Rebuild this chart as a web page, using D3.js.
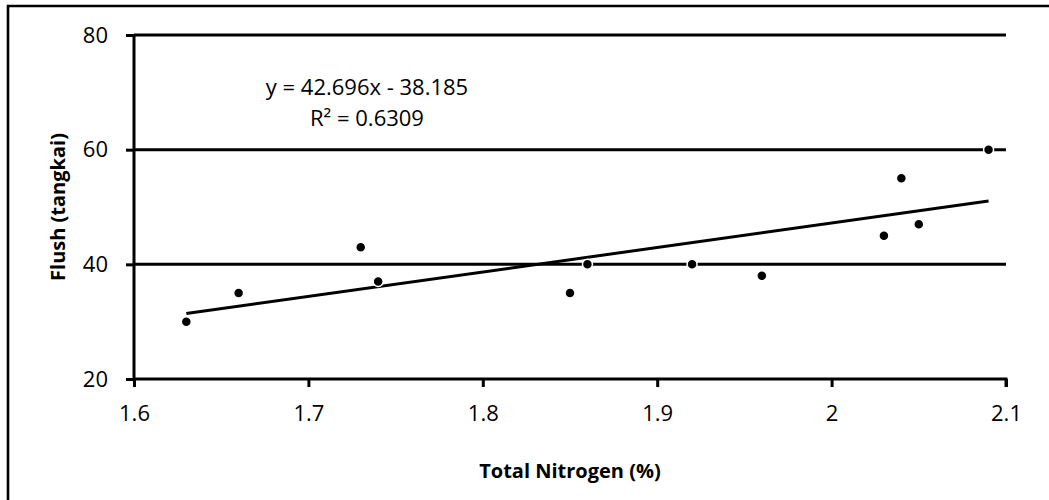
<!DOCTYPE html>
<html>
<head>
<meta charset="utf-8">
<script src="https://cdn.jsdelivr.net/npm/d3@7"></script>
<style>
  html, body { margin: 0; padding: 0; background: #fff; }
  svg { display: block; }
  text { font-family: "Open Sans", "Noto Sans", sans-serif; fill: #000; }
</style>
</head>
<body>
<svg id="chart" width="1049" height="500"></svg>
<script>
// Total nitrogen (%) against flush count (tangkai)
const nitrogen = [1.63, 1.66, 1.73, 1.74, 1.85, 1.86, 1.92, 1.96, 2.03, 2.04, 2.05, 2.09];
const flush    = [30,   35,   43,   37,   35,   40,   40,   38,   45,   55,   47,   60];
const xTicks = [1.6, 1.7, 1.8, 1.9, 2.0, 2.1];
const yTicks = [20, 40, 60, 80];
const slope = 42.696, intercept = -38.185, rSquared = 0.6309;

const svg = d3.select("#chart");
const W = 1049, H = 500;

// outer frame (top and left edges)
svg.append("path")
  .attr("d", `M8,${H} L8,6 L${W},6`)
  .attr("fill", "none").attr("stroke", "#000").attr("stroke-width", 2.6);

const x = d3.scaleLinear().domain([1.6, 2.1]).range([134, 1006]);
const y = d3.scaleLinear().domain([20, 80]).range([379, 35]);

// horizontal gridlines
svg.append("g").selectAll("line")
  .data(yTicks.filter(v => v > 20))
  .join("line")
  .attr("x1", x(1.6)).attr("x2", x(2.1))
  .attr("y1", d => y(d)).attr("y2", d => y(d))
  .attr("stroke", "#000").attr("stroke-width", 3);

// y axis
const yAxis = svg.append("g")
  .attr("transform", `translate(${x(1.6)},0)`)
  .call(d3.axisLeft(y).tickValues(yTicks).tickSize(8).tickPadding(18).tickFormat(d3.format("d")));
// x axis
const xAxis = svg.append("g")
  .attr("transform", `translate(0,${y(20)})`)
  .call(d3.axisBottom(x).tickValues(xTicks).tickSize(8).tickPadding(18).tickFormat(d => d3.format("")(+d.toFixed(1))));

[yAxis, xAxis].forEach(g => {
  g.select(".domain").attr("stroke", "#000").attr("stroke-width", 3);
  g.selectAll(".tick line").attr("stroke", "#000").attr("stroke-width", 3);
  g.selectAll(".tick text").attr("font-family", "Open Sans").attr("font-size", 22).attr("fill", "#000");
});
yAxis.select(".domain").attr("d", `M0,${y(20)}V${y(80)}`);
xAxis.select(".domain").attr("d", `M${x(1.6)},0H${x(2.1)}V8`);

// linear trendline over the data range
const xMin = d3.min(nitrogen), xMax = d3.max(nitrogen);
svg.append("line")
  .attr("x1", x(xMin)).attr("y1", y(slope * xMin + intercept))
  .attr("x2", x(xMax)).attr("y2", y(slope * xMax + intercept))
  .attr("stroke", "#000").attr("stroke-width", 3);

// data points
svg.append("g").selectAll("circle")
  .data(nitrogen.map((n, i) => [n, flush[i]]))
  .join("circle")
  .attr("cx", d => x(d[0])).attr("cy", d => y(d[1]))
  .attr("r", 5).attr("fill", "#000")
  .attr("stroke", "#fff").attr("stroke-width", 1.5);

// regression equation
const eq = svg.append("text").attr("text-anchor", "middle").attr("font-size", 22);
eq.append("tspan").attr("x", 367).attr("y", 95)
  .text(`y = ${slope}x - ${Math.abs(intercept)}`);
eq.append("tspan").attr("x", 367).attr("y", 126)
  .text(`R² = ${rSquared}`);

// axis titles
svg.append("text")
  .attr("x", (x(1.6) + x(2.1)) / 2).attr("y", 478)
  .attr("text-anchor", "middle").attr("font-size", 20).attr("font-weight", "bold")
  .text("Total Nitrogen (%)");
svg.append("text")
  .attr("transform", `translate(65,${(y(20) + y(80)) / 2}) rotate(-90)`)
  .attr("text-anchor", "middle").attr("font-size", 20).attr("font-weight", "bold")
  .text("Flush (tangkai)");
</script>
</body>
</html>
